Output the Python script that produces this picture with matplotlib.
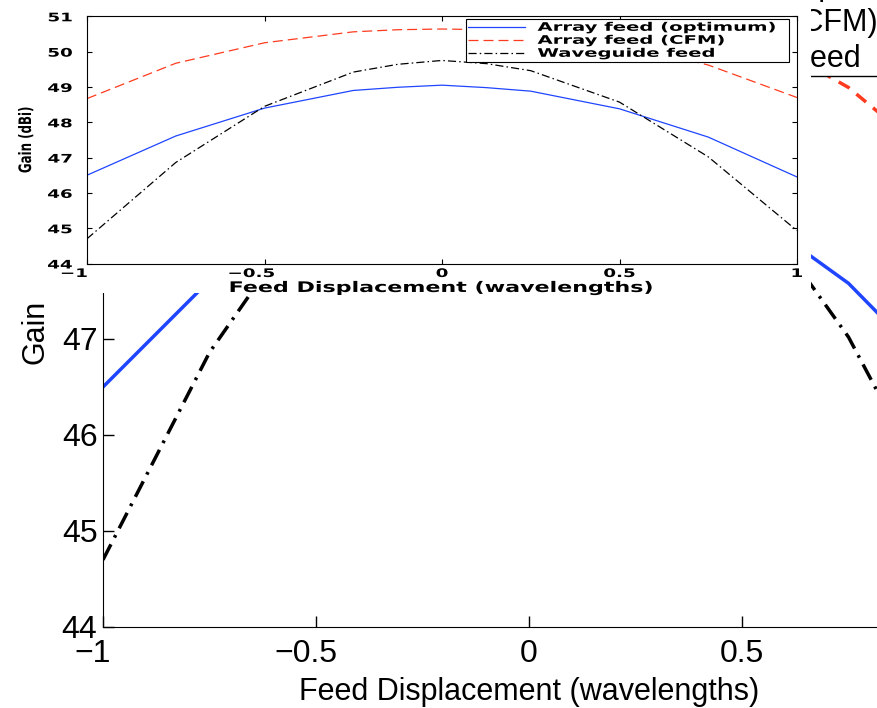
import matplotlib.pyplot as plt
import matplotlib.patheffects as pe
from matplotlib.patches import Rectangle
from matplotlib.transforms import Affine2D, ScaledTranslation

# feed displacement (wavelengths) and gain (dBi)
displacement = [-1, -0.75, -0.5, -0.25, -0.125, 0, 0.125, 0.25, 0.5, 0.75, 1]
gain_optimum = [46.50, 47.61, 48.40, 48.90, 48.99, 49.05, 48.98, 48.88, 48.38, 47.58, 46.45]
gain_cfm = [48.67, 49.67, 50.25, 50.56, 50.62, 50.64, 50.62, 50.56, 50.25, 49.62, 48.70]
gain_waveguide = [44.70, 46.86, 48.45, 49.42, 49.64, 49.75, 49.66, 49.46, 48.57, 47.02, 44.93]
labels = ['Array feed (optimum)', 'Array feed (CFM)', 'Waveguide feed']
xticks = [-1, -0.5, 0, 0.5, 1]
xticklabels = ['\u22121', '\u22120.5', '0', '0.5', '1']
yticks = [44, 45, 46, 47, 48, 49, 50, 51]

BLUE = '#1f45ff'
RED = '#ff3b1f'
W, H = 877, 708


class Stretch(pe.AbstractPathEffect):
    # the small copy of the plot was pasted in stretched, so widen its glyphs
    def __init__(self, sx=1.0, sy=1.0, fx=0.5):
        super().__init__()
        self.sx, self.sy, self.fx = sx, sy, fx

    def draw_path(self, renderer, gc, tpath, affine, rgbFace=None):
        ext = tpath.get_extents()
        px = ext.x0 + self.fx * ext.width
        py = ext.y0 + 0.5 * ext.height
        pre = Affine2D().translate(-px, -py).scale(self.sx, self.sy).translate(px, py)
        renderer.draw_path(gc, tpath, pre + affine, rgbFace)


def px_box(left, top, right, bottom):
    # pixel box (origin top left) -> figure fraction rect
    return [left / W, 1 - bottom / H, (right - left) / W, (bottom - top) / H]


def nudge_negatives(axes, px):
    # matlab centres the number and lets the minus hang out to the left
    for lab, txt in zip(axes.get_xticklabels(), xticklabels):
        if txt.startswith('\u2212'):
            lab.set_transform(lab.get_transform() + ScaledTranslation(-px / 100, 0, fig.dpi_scale_trans))


plt.rcParams['font.family'] = 'Liberation Sans'
fig = plt.figure(figsize=(W / 100, H / 100), dpi=100)

# big plot behind, runs off the top and right of the picture
ax = fig.add_axes(px_box(103, -45, 955, 627))
ax.plot(displacement, gain_optimum, color=BLUE, lw=2.5, label=labels[0])
ax.plot(displacement, gain_cfm, color=RED, lw=2.5, ls=(0, (3.6, 2.6)), label=labels[1])
ax.plot(displacement, gain_waveguide, color='black', lw=2.5, ls=(0, (5, 2.2, 0.8, 2.2)), label=labels[2])
ax.set_xlim(-1, 1)
ax.set_ylim(44, 51)
ax.set_xticks(xticks, labels=xticklabels)
ax.set_yticks(yticks)
ax.tick_params(direction='in', length=8, width=1, labelsize=23, top=True, right=True)
ax.tick_params(axis='x', pad=9)
ax.tick_params(axis='y', pad=4)
nudge_negatives(ax, 10)
ax.set_xlabel('Feed Displacement (wavelengths)', fontsize=22, labelpad=5.5)
ax.set_ylabel('Gain', fontsize=22)
ax.yaxis.set_label_coords(-0.062, 0.439)
leg = ax.legend(loc='lower left', bbox_to_anchor=(555 / W, 1 - 76 / H), bbox_transform=fig.transFigure,
                fontsize=22, fancybox=False, edgecolor='black', framealpha=1, borderpad=0.05,
                labelspacing=0.2, handlelength=2.0, handletextpad=0.8, borderaxespad=0)
leg.get_frame().set_linewidth(1)

# white area of the pasted inset
fig.add_artist(Rectangle((0, 1 - 293 / H), 811 / W, 293 / H, transform=fig.transFigure,
                         facecolor='white', edgecolor='none', zorder=1))

# inset plot
bold = dict(fontfamily='DejaVu Sans', fontweight='bold')
ax2 = fig.add_axes(px_box(87, 16.3, 797, 263.5))
ax2.set_zorder(2)
ax2.plot(displacement, gain_optimum, color=BLUE, lw=0.9, label=labels[0])
ax2.plot(displacement, gain_cfm, color=RED, lw=0.9, ls=(0, (8, 4)), label=labels[1])
ax2.plot(displacement, gain_waveguide, color='black', lw=0.9, ls=(0, (6.5, 2.5, 1.2, 2.5)), label=labels[2])
ax2.set_xlim(-1, 1)
ax2.set_ylim(44, 51)
ax2.set_xticks(xticks, labels=xticklabels)
ax2.set_yticks(yticks)
ax2.tick_params(direction='in', length=3.5, width=0.8, labelsize=8.5, top=True, right=True)
ax2.tick_params(axis='x', pad=2.5)
ax2.tick_params(axis='y', pad=10.5)
nudge_negatives(ax2, 13)
for s in ax2.spines.values():
    s.set_linewidth(0.8)
for lab in ax2.get_xticklabels():
    lab.set(**bold)
    lab.set_path_effects([Stretch(1.55, 1, 0.5)])
for lab in ax2.get_yticklabels():
    lab.set(**bold)
    lab.set_path_effects([Stretch(1.55, 1, 1.0)])
ax2.set_xlabel('Feed Displacement (wavelengths)', fontsize=10.5, labelpad=0, **bold)
ax2.xaxis.label.set_path_effects([Stretch(1.52, 1, 0.5)])
ax2.set_ylabel('Gain (dBi)', fontsize=8.5, **bold)
ax2.yaxis.set_label_coords(-0.077, 0.5)
ax2.yaxis.label.set_path_effects([Stretch(1, 1.45, 0.5)])

leg2 = ax2.legend(loc='upper left', bbox_to_anchor=(0.534, 0.5, 0.455, 0.489), mode='expand',
                  borderaxespad=0, prop=dict(family='DejaVu Sans', weight='bold', size=8.5),
                  fancybox=False, edgecolor='black', framealpha=1, borderpad=0.15,
                  labelspacing=0.0, handlelength=4.8, handletextpad=1.1)
leg2.get_frame().set_linewidth(0.8)
for t in leg2.get_texts():
    t.set_path_effects([Stretch(1.66, 1, 0.0)])

fig.savefig('out.png', dpi=100)
